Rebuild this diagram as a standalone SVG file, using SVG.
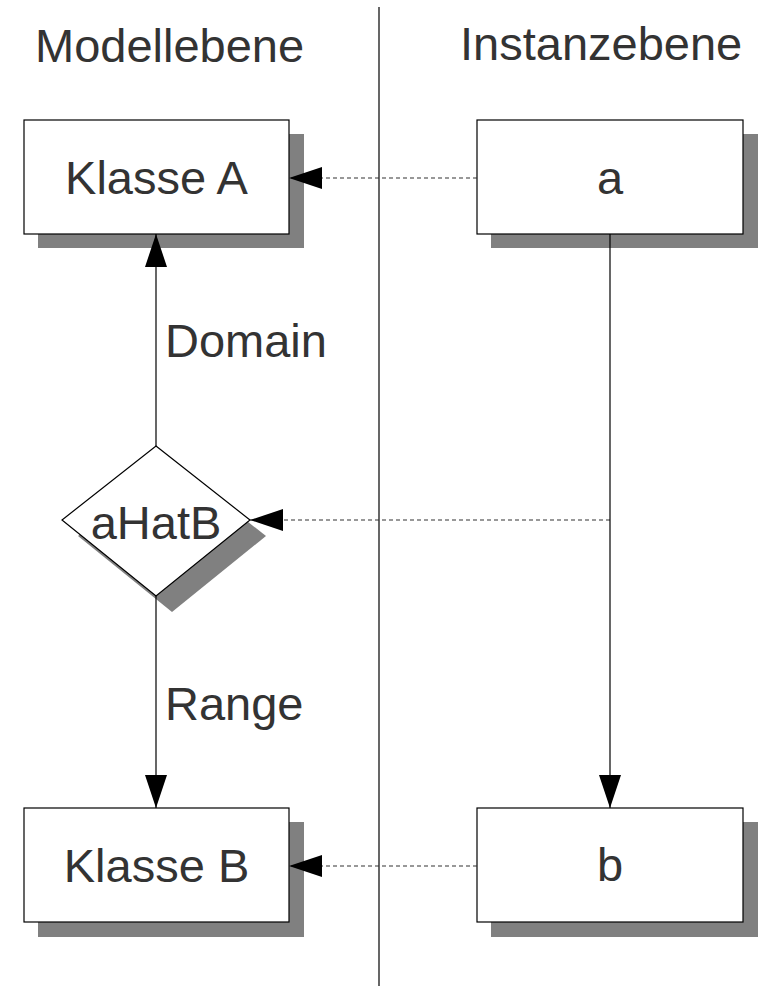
<svg xmlns="http://www.w3.org/2000/svg" width="762" height="986" viewBox="0 0 762 986">
<defs>
<style>
text{font-family:"Liberation Sans",Arial,sans-serif;font-size:47px;fill:#333333}
.c{text-anchor:middle}
.box{fill:#ffffff;stroke:#000000;stroke-width:1.2}
.sh{fill:#808080;stroke:none}
.solid{fill:none;stroke:#000000;stroke-width:1.2}
.dot{fill:none;stroke:#333333;stroke-width:1.2;stroke-dasharray:4,3}
</style>
<marker id="ah" markerUnits="userSpaceOnUse" markerWidth="34" markerHeight="22" refX="33" refY="11" orient="auto" viewBox="0 0 34 22">
<path d="M0,0 L33,11 L0,22 z" fill="#000000"/>
</marker>
</defs>
<rect width="762" height="986" fill="#ffffff"/>
<line x1="379" y1="7" x2="379" y2="986" stroke="#000000" stroke-width="1.2"/>
<text x="35" y="62">Modellebene</text>
<text x="460" y="60">Instanzebene</text>
<g id="klasseA">
<rect class="sh" x="38" y="134" width="266" height="114"/>
<rect class="box" x="24" y="120" width="265" height="114"/>
<text class="c" x="156.5" y="194">Klasse A</text>
</g>
<g id="a">
<rect class="sh" x="491" y="134" width="267" height="114"/>
<rect class="box" x="477" y="120" width="266" height="114"/>
<text class="c" x="610" y="194">a</text>
</g>
<g id="aHatB">
<polygon class="sh" points="172,462 266,536 172,612 78,536"/>
<polygon class="box" points="156,446 250,520 156,596 62,520"/>
<text class="c" x="156" y="539">aHatB</text>
</g>
<g id="klasseB">
<rect class="sh" x="38" y="822" width="266" height="115"/>
<rect class="box" x="24" y="808" width="265" height="114"/>
<text class="c" x="156.5" y="882">Klasse B</text>
</g>
<g id="b">
<rect class="sh" x="491" y="822" width="267" height="115"/>
<rect class="box" x="477" y="808" width="266" height="114"/>
<text class="c" x="610" y="881">b</text>
</g>
<g id="connectors">
<line class="dot" x1="477" y1="178" x2="289" y2="178" marker-end="url(#ah)"/>
<line class="dot" x1="477" y1="866" x2="289" y2="866" marker-end="url(#ah)"/>
<line class="dot" x1="610" y1="520" x2="250" y2="520" marker-end="url(#ah)"/>
<line class="solid" x1="610" y1="234" x2="610" y2="808" marker-end="url(#ah)"/>
<line class="solid" x1="156" y1="446" x2="156" y2="234" marker-end="url(#ah)"/>
<line class="solid" x1="156" y1="596" x2="156" y2="808" marker-end="url(#ah)"/>
<text x="165" y="357">Domain</text>
<text x="165" y="720">Range</text>
</g>
</svg>
